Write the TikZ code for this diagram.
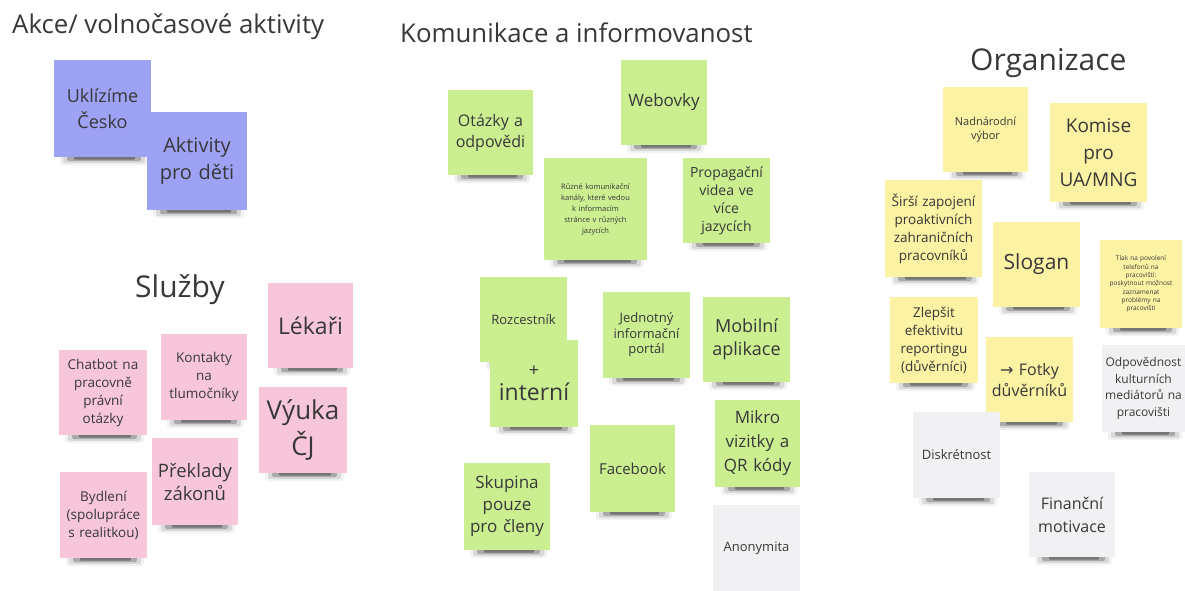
\documentclass[tikz,border=0pt]{standalone}
\usepackage{fontspec}
\setmainfont{Open Sans}
\newfontfamily\arrowfont{DejaVu Sans}
\definecolor{purplenote}{HTML}{9EA2F5}
\definecolor{pinknote}{HTML}{F8C6DA}
\definecolor{greennote}{HTML}{CAEE90}
\definecolor{yellownote}{HTML}{FBF2A3}
\definecolor{graynote}{HTML}{F1F1F3}
\definecolor{ink}{HTML}{383838}
\tikzset{
  note/.style={inner sep=0pt, align=center, text=ink},
  title/.style={inner sep=0pt, anchor=base west, text=ink}
}
\newcommand\sticky[8]{%
  \pgfmathsetmacro\nw{#4-#2}%
  \pgfmathsetmacro\nh{#5-#3}%
  \pgfmathsetmacro\tw{#4-#2-4}%
  \fill[black,opacity=0.05,rounded corners=3pt] (#2+6,#5-3) rectangle (#4-3,#5+8);
  \fill[black,opacity=0.10,rounded corners=2pt] (#2+9,#5-2) rectangle (#4-6,#5+6);
  \fill[black,opacity=0.22,rounded corners=2pt] (#2+13,#5-1) rectangle (#4-10,#5+4);
  \fill[black,opacity=0.30,rounded corners=1pt] (#2+20,#5-1) rectangle (#4-16,#5+2.5);
  \node[note, fill=#6, minimum width=\nw pt, minimum height=\nh pt, text width=\tw pt, font=#7] (#1) at ({(#2+#4)/2},{(#3+#5)/2}) {#8};
}
\begin{document}
\begin{tikzpicture}[x=1pt,y=-1pt]
\useasboundingbox[fill=white] (0,0) rectangle (1185,590);

% titles
\node[title, font=\fontsize{25.8}{30}\selectfont] (t1) at (12,33) {Akce/ volnočasové aktivity};
\node[title, font=\fontsize{30}{34}\selectfont] (t2) at (135,297) {Služby};
\node[title, font=\fontsize{25.8}{30}\selectfont] (t3) at (400,42) {Komunikace a informovanost};
\node[title, font=\fontsize{30}{35}\selectfont] (t4) at (970,70) {Organizace};

% Akce
\sticky{uklizime}{54}{60}{151}{157}{purplenote}{\fontsize{18}{26}\selectfont}{Uklízíme\\Česko}
\sticky{aktivity}{147}{112}{247}{210}{purplenote}{\fontsize{20}{27}\selectfont}{Aktivity\\pro děti}

% Sluzby
\sticky{lekari}{268}{283}{353}{368}{pinknote}{\fontsize{23}{28}\selectfont}{Lékaři}
\sticky{kontakty}{161}{334}{247}{420}{pinknote}{\fontsize{13.5}{18}\selectfont}{Kontakty\\na\\tlumočníky}
\sticky{chatbot}{59}{350}{147}{435}{pinknote}{\fontsize{13.5}{18}\selectfont}{Chatbot na\\pracovně\\právní\\otázky}
\sticky{vyuka}{259}{387}{347}{473}{pinknote}{\fontsize{26}{36}\selectfont}{Výuka\\ČJ}
\sticky{preklady}{152}{438}{238}{525}{pinknote}{\fontsize{18.5}{23}\selectfont}{Překlady\\zákonů}
\sticky{bydleni}{60}{472}{147}{558}{pinknote}{\fontsize{13.5}{18}\selectfont}{Bydlení\\(spolupráce\\s realitkou)}

% Komunikace
\sticky{webovky}{621}{60}{707}{145}{greennote}{\fontsize{17}{22}\selectfont}{Webovky}
\sticky{otazky}{448}{90}{533}{175}{greennote}{\fontsize{16}{21}\selectfont}{Otázky a\\odpovědi}
\sticky{ruzne}{544}{158}{647}{260}{greennote}{\fontsize{7.5}{11}\selectfont}{Různé komunikační\\kanály, které vedou\\k informacím\\stránce v různých\\jazycích}
\sticky{propag}{683}{158}{770}{243}{greennote}{\fontsize{14}{18}\selectfont}{Propagační\\videa ve\\více\\jazycích}
\sticky{rozcestnik}{480}{277}{567}{362}{greennote}{\fontsize{13}{16}\selectfont}{Rozcestník}
\sticky{interni}{490}{340}{578}{427}{greennote}{\fontsize{18}{24}\selectfont}{+\\{\fontsize{23}{30}\selectfont interní}}
\sticky{jednotny}{603}{292}{690}{378}{greennote}{\fontsize{13}{15.5}\selectfont}{Jednotný\\informační\\portál}
\sticky{mobilni}{703}{297}{790}{382}{greennote}{\fontsize{18}{23}\selectfont}{Mobilní\\aplikace}
\sticky{mikro}{715}{400}{800}{487}{greennote}{\fontsize{17}{24}\selectfont}{Mikro\\vizitky a\\QR kódy}
\sticky{facebook}{590}{425}{675}{512}{greennote}{\fontsize{15}{18}\selectfont}{Facebook}
\sticky{skupina}{464}{463}{550}{550}{greennote}{\fontsize{17}{22}\selectfont}{Skupina\\pouze\\pro členy}
\node[note, fill=graynote, minimum width=87pt, minimum height=86pt, text width=80pt, font=\fontsize{13}{16}\selectfont] (anonymita) at (756.5,548) {Anonymita};

% Organizace
\sticky{nadnarodni}{943}{87}{1028}{172}{yellownote}{\fontsize{11}{14}\selectfont}{Nadnárodní\\výbor\\[14pt]}
\sticky{komise}{1050}{103}{1147}{202}{yellownote}{\fontsize{19}{27}\selectfont}{Komise\\pro\\UA/MNG}
\sticky{sirsi}{885}{180}{982}{277}{yellownote}{\fontsize{13.5}{18}\selectfont}{Širší zapojení\\proaktivních\\zahraničních\\pracovníků}
\sticky{slogan}{993}{222}{1080}{307}{yellownote}{\fontsize{21}{26}\selectfont}{Slogan}
\sticky{tlak}{1100}{240}{1182}{328}{yellownote}{\fontsize{6.5}{8.3}\selectfont}{Tlak na povolení\\telefonů na\\pracovišti:\\poskytnout možnost\\zaznamenat\\problémy na\\pracovišti}
\sticky{zlepsit}{890}{297}{978}{383}{yellownote}{\fontsize{13.5}{18}\selectfont}{Zlepšit\\efektivitu\\reportingu\\(důvěrníci)}
\sticky{odpovednost}{1102}{345}{1185}{432}{graynote}{\fontsize{12}{16.5}\selectfont}{Odpovědnost\\kulturních\\mediátorů na\\pracovišti}
\sticky{fotky}{986}{337}{1073}{422}{yellownote}{\fontsize{16}{21}\selectfont}{{\arrowfont →} Fotky\\důvěrníků}
\sticky{diskretnost}{913}{412}{1000}{498}{graynote}{\fontsize{13}{16}\selectfont}{Diskrétnost}
\sticky{financni}{1029}{472}{1115}{557}{graynote}{\fontsize{16}{23}\selectfont}{Finanční\\motivace}
\end{tikzpicture}
\end{document}
